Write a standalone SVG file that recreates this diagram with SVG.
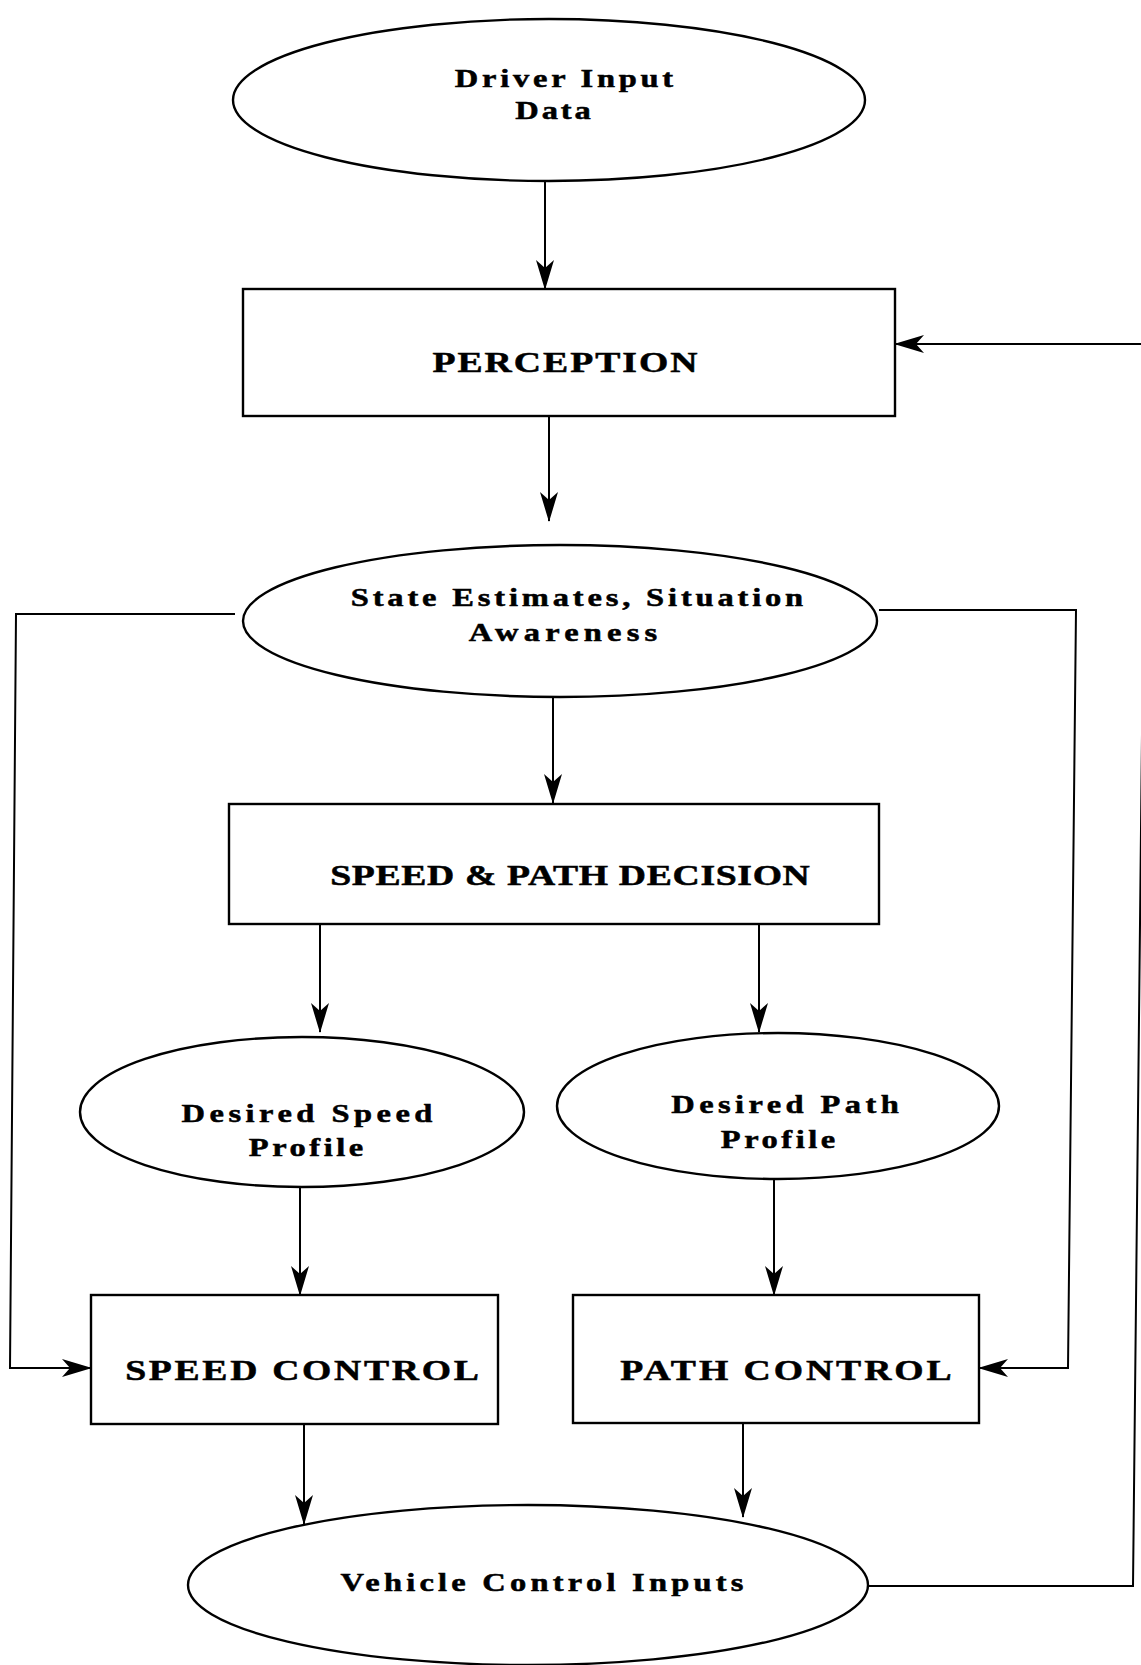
<svg xmlns="http://www.w3.org/2000/svg" width="1141" height="1665" viewBox="0 0 1141 1665">
<style>
  .shape { fill: #ffffff; stroke: #000000; stroke-width: 2.4; }
  .conn { fill: none; stroke: #000000; stroke-width: 2; }
  .lbl { font-family: "Liberation Serif", "Times New Roman", serif; font-weight: bold; fill: #000000; stroke: #000000; stroke-width: 0.5; text-anchor: middle; }
  .big { font-size: 29px; }
  .sm { font-size: 25px; }
</style>
<defs>
  <marker id="arr" markerUnits="userSpaceOnUse" markerWidth="30" markerHeight="20" refX="29" refY="10" orient="auto" viewBox="0 0 30 20">
    <path d="M0,1 L30,10 L0,19 L8,10 Z" fill="#000000"/>
  </marker>
</defs>
<rect x="0" y="0" width="1141" height="1665" fill="#ffffff"/>

<g id="connectors">
  <path class="conn" d="M545,181 V289" marker-end="url(#arr)"/>
  <path class="conn" d="M549,416 V521" marker-end="url(#arr)"/>
  <path class="conn" d="M866,1586 H1133 L1143,640 V344 H895" marker-end="url(#arr)"/>
  <path class="conn" d="M553,697 V803" marker-end="url(#arr)"/>
  <path class="conn" d="M235,614 H16 L10,1368 H91" marker-end="url(#arr)"/>
  <path class="conn" d="M879,610 H1076 L1068,1368 H979" marker-end="url(#arr)"/>
  <path class="conn" d="M320,924 V1032" marker-end="url(#arr)"/>
  <path class="conn" d="M759,924 V1032" marker-end="url(#arr)"/>
  <path class="conn" d="M300,1187 V1295" marker-end="url(#arr)"/>
  <path class="conn" d="M774,1179 V1295" marker-end="url(#arr)"/>
  <path class="conn" d="M304,1424 V1524" marker-end="url(#arr)"/>
  <path class="conn" d="M743,1423 V1517" marker-end="url(#arr)"/>
</g>

<g id="driver-input">
  <ellipse class="shape" cx="549" cy="100" rx="316" ry="81"/>
  <text class="lbl sm" transform="translate(564,87) scale(1.3,1)" textLength="168" lengthAdjust="spacing">Driver Input</text>
  <text class="lbl sm" transform="translate(553,119) scale(1.3,1)" textLength="58" lengthAdjust="spacing">Data</text>
</g>

<g id="perception">
  <rect class="shape" x="243" y="289" width="652" height="127"/>
  <text class="lbl big" transform="translate(565,372) scale(1.3,1)" textLength="204" lengthAdjust="spacing">PERCEPTION</text>
</g>

<g id="state-estimates">
  <ellipse class="shape" cx="560" cy="621" rx="317" ry="76"/>
  <text class="lbl sm" transform="translate(577,606) scale(1.3,1)" textLength="348" lengthAdjust="spacing">State Estimates, Situation</text>
  <text class="lbl sm" transform="translate(563,641) scale(1.3,1)" textLength="145" lengthAdjust="spacing">Awareness</text>
</g>

<g id="speed-path-decision">
  <rect class="shape" x="229" y="804" width="650" height="120"/>
  <text class="lbl big" transform="translate(570,885) scale(1.3,1)" textLength="369" lengthAdjust="spacing">SPEED &amp; PATH DECISION</text>
</g>

<g id="desired-speed-profile">
  <ellipse class="shape" cx="302" cy="1112" rx="222" ry="75"/>
  <text class="lbl sm" transform="translate(307,1122) scale(1.3,1)" textLength="193" lengthAdjust="spacing">Desired Speed</text>
  <text class="lbl sm" transform="translate(306,1156) scale(1.3,1)" textLength="88" lengthAdjust="spacing">Profile</text>
</g>

<g id="desired-path-profile">
  <ellipse class="shape" cx="778" cy="1106" rx="221" ry="73"/>
  <text class="lbl sm" transform="translate(785,1113) scale(1.3,1)" textLength="175" lengthAdjust="spacing">Desired Path</text>
  <text class="lbl sm" transform="translate(778,1148) scale(1.3,1)" textLength="88" lengthAdjust="spacing">Profile</text>
</g>

<g id="speed-control">
  <rect class="shape" x="91" y="1295" width="407" height="129"/>
  <text class="lbl big" transform="translate(302,1380) scale(1.3,1)" textLength="272" lengthAdjust="spacing">SPEED CONTROL</text>
</g>

<g id="path-control">
  <rect class="shape" x="573" y="1295" width="406" height="128"/>
  <text class="lbl big" transform="translate(786,1380) scale(1.3,1)" textLength="255" lengthAdjust="spacing">PATH CONTROL</text>
</g>

<g id="vehicle-control-inputs">
  <ellipse class="shape" cx="528" cy="1585" rx="340" ry="80"/>
  <text class="lbl sm" transform="translate(542,1591) scale(1.3,1)" textLength="310" lengthAdjust="spacing">Vehicle Control Inputs</text>
</g>
</svg>
